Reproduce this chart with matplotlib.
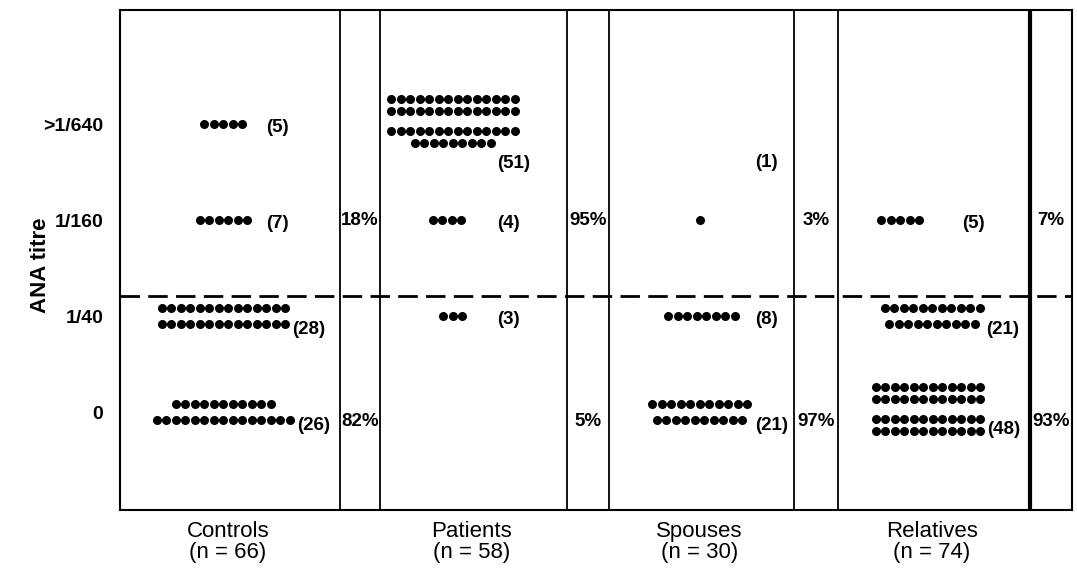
import matplotlib.pyplot as plt

# titre levels (bottom to top) and groups
levels = ['0', '1/40', '1/160', '>1/640']
groups = ['Controls', 'Patients', 'Spouses', 'Relatives']
group_n = [66, 58, 30, 74]

# dots per row at each level: rows[group][level] = list of row lengths (top to bottom)
rows = {
    'Controls':  {'0': [11, 15], '1/40': [14, 14], '1/160': [6], '>1/640': [5]},
    'Patients':  {'0': [], '1/40': [3], '1/160': [4], '>1/640': [14, 14, 14, 9]},
    'Spouses':   {'0': [11, 10], '1/40': [8], '1/160': [1], '>1/640': []},
    'Relatives': {'0': [12, 12, 12, 12], '1/40': [11, 10], '1/160': [5], '>1/640': []},
}
# counts as printed in the figure
counts = {
    'Controls':  {'0': 26, '1/40': 28, '1/160': 7, '>1/640': 5},
    'Patients':  {'0': 0, '1/40': 3, '1/160': 4, '>1/640': 51},
    'Spouses':   {'0': 21, '1/40': 8, '1/160': 1, '>1/640': 0},
    'Relatives': {'0': 48, '1/40': 21, '1/160': 5, '>1/640': 0},
}
pct_pos = [18, 95, 3, 7]    # % at or above 1/160
pct_neg = [82, 5, 97, 93]   # % below

# layout (pixel-like x units inside the frame)
panel_w = [220, 187, 185, 192]
pct_w = [40, 42, 44, 42]
centre_frac = [0.47, 0.39, 0.49, 0.49]
shift = {('Relatives', '1/160'): -32, ('Patients', '1/160'): -6, ('Spouses', '1/40'): 2,
         ('Relatives', '0'): -4}
dot_pitch = 9.5
label_col = [146, 117, 146, 124]
cut = 1.21

fig = plt.figure(figsize=(10.77, 5.72), dpi=100)
ax = fig.add_axes([120 / 1077, 62 / 572, 952 / 1077, 500 / 572])
total_w = sum(panel_w) + sum(pct_w)
ax.set_xlim(0, total_w)
ax.set_ylim(-1.02, 4.19)
for s in ax.spines.values():
    s.set_linewidth(1.5)
ax.set_xticks([])
ax.set_yticks(range(len(levels)))
ax.set_yticklabels(levels, fontsize=14, fontweight='bold', family='Liberation Sans')
ax.tick_params(axis='y', length=0, pad=12)
ax.set_ylabel('ANA titre', fontsize=16, fontweight='bold', family='Liberation Sans')
ax.yaxis.set_label_coords(-0.073, 0.49)

font = dict(family='Liberation Sans', fontweight='bold', fontsize=13.5)
x0 = 0
for gi, g in enumerate(groups):
    for li, lev in enumerate(levels):
        r = rows[g][lev]
        if not r:
            continue
        cx = x0 + panel_w[gi] * centre_frac[gi] + shift.get((g, lev), 0)
        nr = len(r)
        pitch_y = 0.17 if nr == 2 else 0.125
        right = cx
        last_y = li
        for ri, n in enumerate(r):
            y = li + ((nr - 1) / 2 - ri) * pitch_y
            if nr == 4:
                y += (0.04 if ri < 2 else -0.04) + 0.03
            xs = [cx + (k - (n - 1) / 2) * dot_pitch for k in range(n)]
            ax.plot(xs, [y] * n, 'o', color='black', markersize=6.5, markeredgewidth=0)
            right = max(right, xs[-1])
            last_y = y
        ly = last_y - 0.05 if nr > 1 else li - 0.03
        if nr == 4:
            ly = last_y + 0.02
        lx = max(right + 7, x0 + label_col[gi])
        if g == 'Patients' and lev == '>1/640':
            ly, lx = li - 0.41, x0 + label_col[gi]
        if g == 'Spouses' and lev == '1/160':
            ly, lx = li + 0.6, x0 + label_col[gi]
        ax.text(lx, ly, f'({counts[g][lev]})', ha='left', va='center', **font)
    x0 += panel_w[gi]
    ax.axvline(x0, color='black', lw=1.3)
    ax.text(x0 + pct_w[gi] / 2, 2, f'{pct_pos[gi]}%', ha='center', va='center', **font)
    ax.text(x0 + pct_w[gi] / 2, -0.1, f'{pct_neg[gi]}%', ha='center', va='center', **font)
    ax.text(x0 - panel_w[gi] / 2 - 2, -1.13, f'{g}\n(n = {group_n[gi]})', ha='center', va='top',
            fontsize=16, family='Liberation Sans', linespacing=1.05)
    x0 += pct_w[gi]
    if gi < len(groups) - 1:
        ax.axvline(x0, color='black', lw=1.3)
ax.axvline(x0 - pct_w[-1], color='black', lw=3)

ax.axhline(cut, color='black', lw=2, dashes=(7, 3))

fig.savefig('out.png', dpi=100)
